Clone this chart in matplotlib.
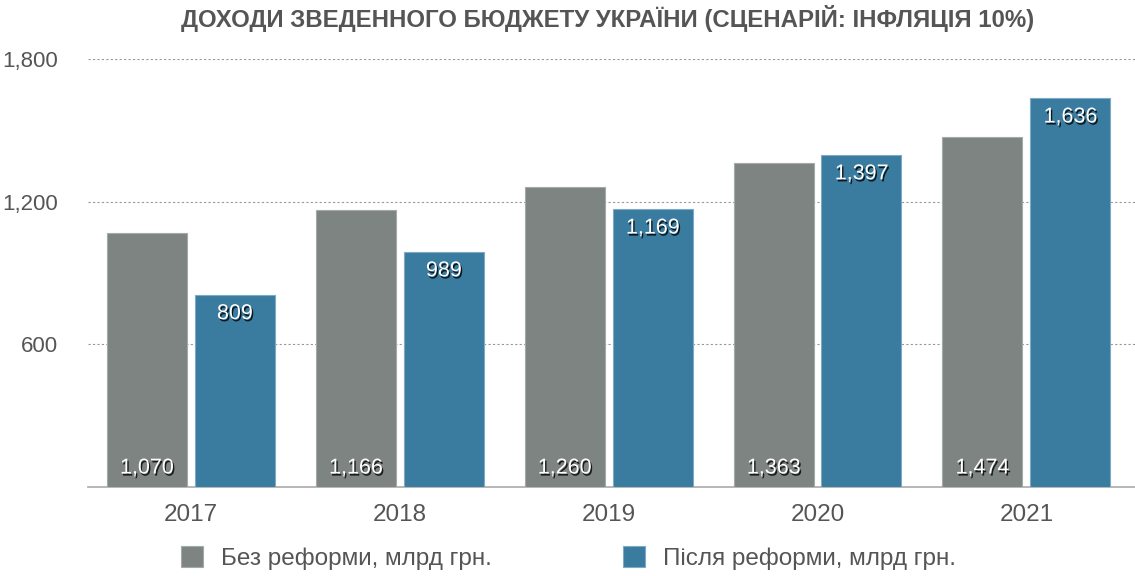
import matplotlib.pyplot as plt
import matplotlib.patheffects as pe
import numpy as np

plt.rcParams['font.family'] = ['Liberation Sans', 'DejaVu Sans']

years = ['2017', '2018', '2019', '2020', '2021']
no_reform = [1070, 1166, 1260, 1363, 1474]
after_reform = [809, 989, 1169, 1397, 1636]
yticks = [600, 1200, 1800]

GREY = '#7e8481'
BLUE = '#3a7ba0'
TEXT = '#555555'

fig = plt.figure(figsize=(11.35, 5.76), dpi=100)
ax = fig.add_axes([0.0775, 0.1545, 0.9225, 0.7431])

x = np.arange(len(years))
w = 0.383
off = 0.019 + w / 2
b1 = ax.bar(x - off, no_reform, w, color=GREY, edgecolor='#a3aaa7', linewidth=0.8,
            label='Без реформи, млрд грн.', zorder=3)
b2 = ax.bar(x + off, after_reform, w, color=BLUE, edgecolor='#7fa9c4', linewidth=0.8,
            label='Після реформи, млрд грн.', zorder=3)

shadow = [pe.SimplePatchShadow(offset=(1, -1.5), shadow_rgbFace='black', alpha=0.8), pe.Normal()]
for xi, v in zip(x - off, no_reform):
    ax.annotate(f'{v:,}', (xi, 0), xytext=(0, 19), textcoords='offset pixels',
                ha='center', va='center', color='white', fontsize=15.5, zorder=4,
                path_effects=shadow)
for xi, v in zip(x + off, after_reform):
    ax.annotate(f'{v:,}', (xi, v), xytext=(0, -19), textcoords='offset pixels',
                ha='center', va='center', color='white', fontsize=15.5, zorder=4,
                path_effects=shadow)

ax.set_xlim(-0.493, 4.52)
ax.set_ylim(0, 1800)
ax.set_yticks(yticks)
ax.set_yticklabels([f'{t:,}' for t in yticks])
ax.set_xticks(x)
ax.set_xticklabels(years)
ax.tick_params(axis='y', length=0, pad=21.6, labelsize=16, labelcolor=TEXT)
ax.tick_params(axis='x', length=0, pad=12, labelsize=17.5, labelcolor=TEXT)
ax.yaxis.grid(True, linestyle=(0, (2, 2)), color='#999999', linewidth=0.8, zorder=0)
for s in ['top', 'right', 'left']:
    ax.spines[s].set_visible(False)
ax.spines['bottom'].set_color('#aaaaaa')
ax.spines['bottom'].set_linewidth(1.2)

fig.text(0.535, 0.968, 'ДОХОДИ ЗВЕДЕННОГО БЮДЖЕТУ УКРАЇНИ (СЦЕНАРІЙ: ІНФЛЯЦІЯ 10%)',
         ha='center', va='center', fontsize=17.3, fontweight='bold', color=TEXT)

fig.legend(loc='center', bbox_to_anchor=(0.501, 0.031), ncol=2, frameon=False,
           fontsize=17.5, labelcolor=TEXT, handlelength=0.9, handleheight=0.9,
           columnspacing=5.4, handletextpad=0.75)

fig.savefig('out.png', dpi=100, facecolor='white')
